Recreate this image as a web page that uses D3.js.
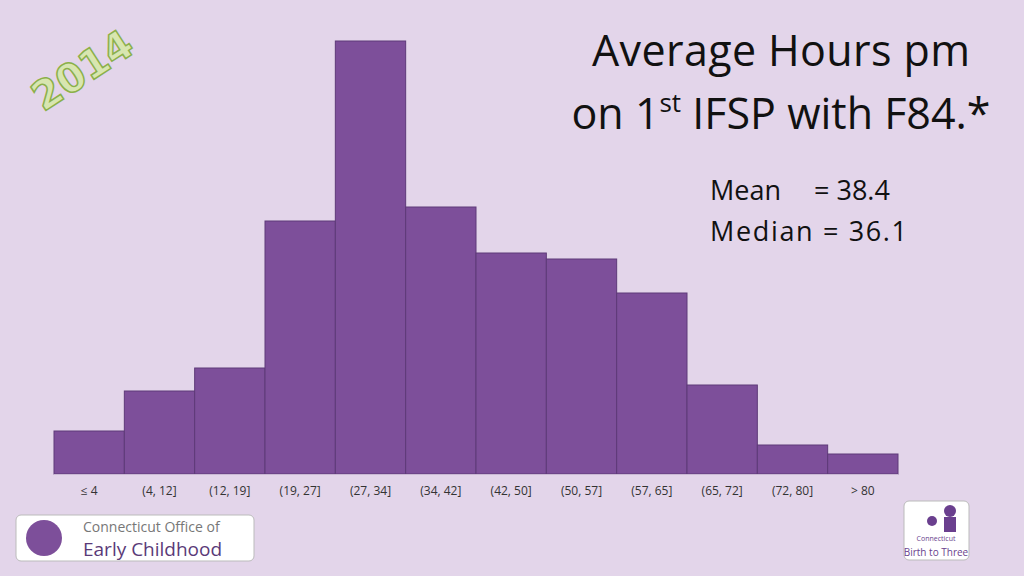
<!DOCTYPE html><html><head><meta charset="utf-8">
<script src="https://cdn.jsdelivr.net/npm/d3@7"></script>
<style>body{margin:0;background:#e3d5ea}svg{display:block}</style></head><body>
<script>
const categories=["≤ 4","(4, 12]","(12, 19]","(19, 27]","(27, 34]","(34, 42]","(42, 50]","(50, 57]","(57, 65]","(65, 72]","(72, 80]","> 80"];
const values=[43,83,106,253,433,267,221,215,181,89,29,20];
const W=1024,H=576;
const svg=d3.select("body").append("svg").attr("width",W).attr("height",H);
svg.append("rect").attr("width",W).attr("height",H).attr("fill","#e3d5ea");
const x=d3.scaleBand().domain(categories).range([54,898]).padding(0);
const y=d3.scaleLinear().domain([0,433]).range([474,41]);
svg.selectAll("rect.bar").data(values).join("rect").attr("class","bar")
 .attr("x",(d,i)=>x(categories[i])).attr("width",x.bandwidth())
 .attr("y",d=>y(d)).attr("height",d=>y(0)-y(d))
 .attr("fill","#7d4f9a").attr("stroke","#5e3a78").attr("stroke-width",1);
svg.append("line").attr("x1",54).attr("x2",898).attr("y1",474.5).attr("y2",474.5).attr("stroke","#c9b8d3");
const ax=svg.append("g").attr("transform","translate(0,474)").call(d3.axisBottom(x).tickSize(0).tickPadding(12));
ax.select(".domain").remove();
ax.selectAll("text").attr("font-family","Open Sans").attr("font-size",12).attr("fill","#333");
const t=svg.append("g").attr("font-family","Open Sans").attr("fill","#111").attr("text-anchor","middle");
t.append("text").attr("x",781).attr("y",66).attr("font-size",43).attr("textLength",378).text("Average Hours pm");
const l2=t.append("text").attr("x",781).attr("y",129).attr("font-size",43);
l2.append("tspan").text("on 1");
l2.append("tspan").attr("font-size",26).attr("dy",-17).text("st");
l2.append("tspan").attr("dy",17).text(" IFSP with F84.*");
const s=svg.append("g").attr("font-family","Open Sans").attr("font-size",27).attr("fill","#111");
s.append("text").attr("x",710).attr("y",200).text("Mean");
s.append("text").attr("x",814).attr("y",200).text("= 38.4");
s.append("text").attr("x",710).attr("y",241).attr("textLength",197).text("Median = 36.1");
svg.append("text").attr("transform","translate(90,82) rotate(-33)").attr("text-anchor","middle")
 .attr("font-family","DejaVu Sans").attr("font-weight","bold").attr("font-size",40)
 .attr("fill","#d8e6b0").attr("stroke","#8bb04a").attr("stroke-width",1.5).text("2014");
// logos
const g1=svg.append("g");
g1.append("rect").attr("x",16).attr("y",515).attr("width",238).attr("height",46).attr("rx",5).attr("fill","#fff").attr("stroke","#bbb");
g1.append("circle").attr("cx",44).attr("cy",538).attr("r",18).attr("fill","#7d4f9a");
g1.append("text").attr("x",83).attr("y",532).attr("font-family","Open Sans").attr("font-size",14).attr("fill","#777").text("Connecticut Office of");
g1.append("text").attr("x",83).attr("y",556).attr("font-family","Open Sans").attr("font-size",19).attr("fill","#5a3a78").text("Early Childhood");
const g2=svg.append("g");
g2.append("rect").attr("x",904).attr("y",501).attr("width",65).attr("height",59).attr("rx",5).attr("fill","#fff").attr("stroke","#bbb");
g2.append("circle").attr("cx",950).attr("cy",511).attr("r",6).attr("fill","#6a3f8e");
g2.append("rect").attr("x",944).attr("y",517).attr("width",12).attr("height",15).attr("fill","#6a3f8e");
g2.append("circle").attr("cx",932).attr("cy",521).attr("r",5).attr("fill","#6a3f8e");
g2.append("text").attr("x",936).attr("y",541).attr("text-anchor","middle").attr("font-family","Open Sans").attr("font-size",7).attr("fill","#6a3f8e").text("Connecticut");
g2.append("text").attr("x",936).attr("y",556).attr("text-anchor","middle").attr("font-family","Open Sans").attr("font-size",10).attr("fill","#6a3f8e").text("Birth to Three");
</script></body></html>
